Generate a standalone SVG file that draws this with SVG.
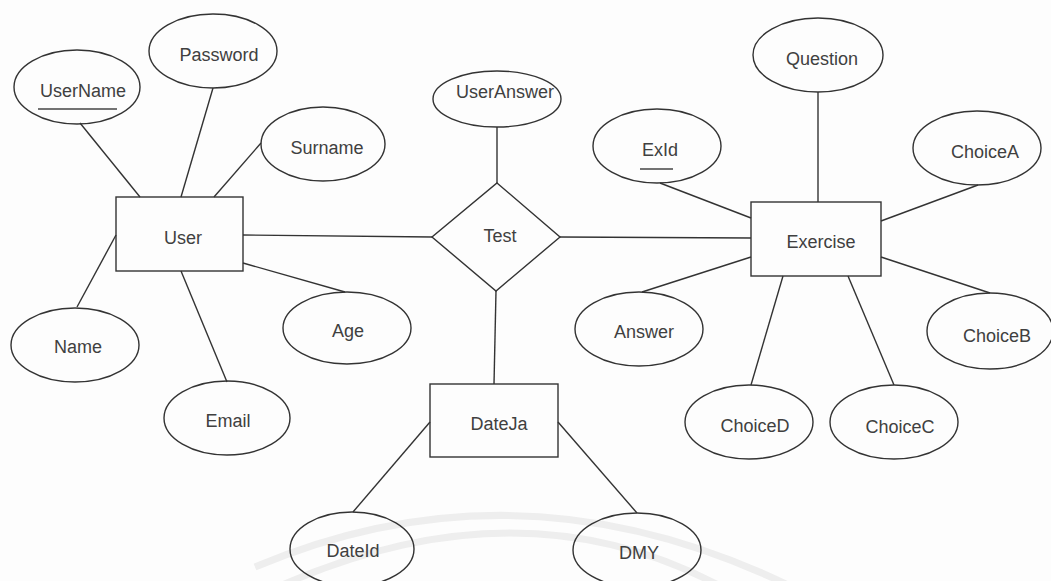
<svg xmlns="http://www.w3.org/2000/svg" width="1051" height="581" viewBox="0 0 1051 581">
  <style>
    .shape { fill: none; stroke: #333; stroke-width: 1.4; }
    .link { stroke: #333; stroke-width: 1.4; fill: none; }
    .label { font-family: "Liberation Sans", Arial, sans-serif; font-size: 18px; fill: #404040; text-anchor: middle; }
    .key { stroke: #444; stroke-width: 1.3; }
    .seal { fill: none; stroke: #eeeeee; stroke-width: 7; }
  </style>

  <rect x="0" y="0" width="1051" height="581" fill="#fdfdfd"/>

  <!-- faint seal in the background -->
  <g id="seal">
    <path class="seal" d="M 255 567 Q 520 455 790 586"/>
    <path class="seal" d="M 280 586 Q 520 480 720 586"/>
  </g>

  <g id="connectors">
    <!-- User attributes -->
    <line class="link" x1="80" y1="123" x2="140" y2="197"/>
    <line class="link" x1="213" y1="88" x2="181" y2="197"/>
    <line class="link" x1="261" y1="143" x2="214" y2="197"/>
    <line class="link" x1="116" y1="235" x2="77" y2="307"/>
    <line class="link" x1="181" y1="271" x2="227" y2="382"/>
    <line class="link" x1="243" y1="263" x2="345" y2="292"/>
    <!-- relationships -->
    <line class="link" x1="243" y1="235" x2="432" y2="237"/>
    <line class="link" x1="560" y1="237" x2="751" y2="238"/>
    <line class="link" x1="497" y1="127" x2="497" y2="183"/>
    <line class="link" x1="496" y1="291" x2="494" y2="384"/>
    <!-- Exercise attributes -->
    <line class="link" x1="818" y1="92" x2="818" y2="202"/>
    <line class="link" x1="660" y1="183" x2="751" y2="218"/>
    <line class="link" x1="978" y1="185" x2="881" y2="221"/>
    <line class="link" x1="642" y1="292" x2="751" y2="257"/>
    <line class="link" x1="990" y1="293" x2="881" y2="257"/>
    <line class="link" x1="751" y1="385" x2="783" y2="276"/>
    <line class="link" x1="894" y1="385" x2="848" y2="276"/>
    <!-- DateJa attributes -->
    <line class="link" x1="353" y1="512" x2="430" y2="422"/>
    <line class="link" x1="637" y1="513" x2="558" y2="422"/>
  </g>

  <!-- entities -->
  <g id="user">
    <rect class="shape" x="116" y="197" width="127" height="74"/>
    <text class="label" x="183" y="244">User</text>
  </g>
  <g id="exercise">
    <rect class="shape" x="751" y="202" width="130" height="74"/>
    <text class="label" x="821" y="248">Exercise</text>
  </g>
  <g id="dateja">
    <rect class="shape" x="430" y="384" width="128" height="73"/>
    <text class="label" x="499" y="430">DateJa</text>
  </g>

  <!-- relationship -->
  <g id="test">
    <polygon class="shape" points="497,183 560,237 496,291 432,237"/>
    <text class="label" x="500" y="242">Test</text>
  </g>

  <!-- attributes of User -->
  <g id="attr-username">
    <ellipse class="shape" cx="77" cy="87" rx="63" ry="37"/>
    <text class="label" x="83" y="97">UserName</text>
    <line class="key" x1="38" y1="109" x2="117" y2="109"/>
  </g>
  <g id="attr-password">
    <ellipse class="shape" cx="213" cy="51" rx="64" ry="37"/>
    <text class="label" x="219" y="61">Password</text>
  </g>
  <g id="attr-surname">
    <ellipse class="shape" cx="323" cy="144" rx="62" ry="37"/>
    <text class="label" x="327" y="154">Surname</text>
  </g>
  <g id="attr-name">
    <ellipse class="shape" cx="75" cy="345" rx="64" ry="37"/>
    <text class="label" x="78" y="353">Name</text>
  </g>
  <g id="attr-email">
    <ellipse class="shape" cx="227" cy="418" rx="63" ry="37"/>
    <text class="label" x="228" y="427">Email</text>
  </g>
  <g id="attr-age">
    <ellipse class="shape" cx="347" cy="328" rx="64" ry="36"/>
    <text class="label" x="348" y="337">Age</text>
  </g>

  <!-- attribute of Test -->
  <g id="attr-useranswer">
    <ellipse class="shape" cx="497" cy="99" rx="64" ry="28"/>
    <text class="label" x="505" y="98">UserAnswer</text>
  </g>

  <!-- attributes of Exercise -->
  <g id="attr-question">
    <ellipse class="shape" cx="818" cy="55" rx="65" ry="37"/>
    <text class="label" x="822" y="65">Question</text>
  </g>
  <g id="attr-exid">
    <ellipse class="shape" cx="657" cy="146" rx="64" ry="37"/>
    <text class="label" x="660" y="156">ExId</text>
    <line class="key" x1="640" y1="169" x2="673" y2="169"/>
  </g>
  <g id="attr-choicea">
    <ellipse class="shape" cx="977" cy="148" rx="64" ry="37"/>
    <text class="label" x="985" y="158">ChoiceA</text>
  </g>
  <g id="attr-answer">
    <ellipse class="shape" cx="639" cy="329" rx="64" ry="37"/>
    <text class="label" x="644" y="338">Answer</text>
  </g>
  <g id="attr-choiceb">
    <ellipse class="shape" cx="990" cy="331" rx="63" ry="38"/>
    <text class="label" x="997" y="342">ChoiceB</text>
  </g>
  <g id="attr-choicec">
    <ellipse class="shape" cx="894" cy="422" rx="64" ry="37"/>
    <text class="label" x="900" y="433">ChoiceC</text>
  </g>
  <g id="attr-choiced">
    <ellipse class="shape" cx="749" cy="422" rx="64" ry="37"/>
    <text class="label" x="755" y="432">ChoiceD</text>
  </g>

  <!-- attributes of DateJa -->
  <g id="attr-dateid">
    <ellipse class="shape" cx="352" cy="549" rx="62" ry="37"/>
    <text class="label" x="353" y="557">DateId</text>
  </g>
  <g id="attr-dmy">
    <ellipse class="shape" cx="637" cy="550" rx="64" ry="37"/>
    <text class="label" x="639" y="559">DMY</text>
  </g>
</svg>
